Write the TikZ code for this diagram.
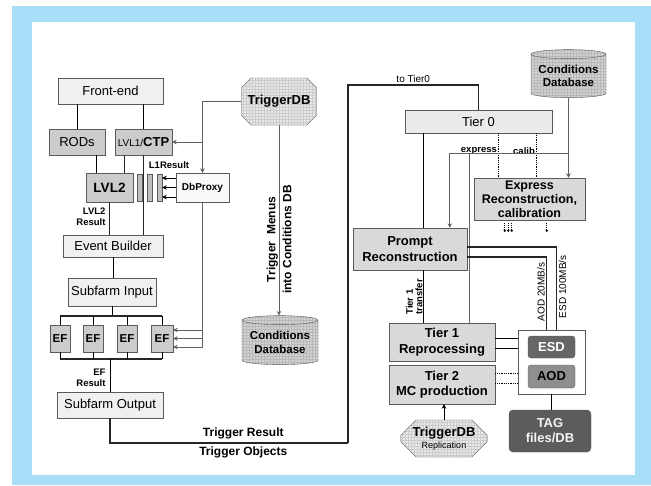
\documentclass[tikz,border=0pt]{standalone}
\usepackage{fontspec}
\setmainfont{Liberation Sans}
\usepackage{xcolor}
\usetikzlibrary{positioning, arrows.meta, shapes.geometric, shapes.misc, patterns}

\definecolor{framebl}{RGB}{168,222,247}
\definecolor{boxline}{RGB}{90,90,90}

\begin{document}
\begin{tikzpicture}[x=1pt, y=-1pt,
  box/.style={draw=boxline, fill=gray!12, inner sep=0pt, align=center,
              font=\fontsize{13}{15}\selectfont},
  midbox/.style={box, fill=gray!40},
  tierbox/.style={box, fill=gray!30, font=\fontsize{13}{15.5}\selectfont\bfseries},
  slot/.style={draw=boxline, fill=gray!50, minimum width=5pt,
               minimum height=27pt, inner sep=0pt},
  efbox/.style={midbox, font=\fontsize{11.5}{13}\selectfont\bfseries,
                minimum width=20pt, minimum height=27pt},
  octa/.style={chamfered rectangle, chamfered rectangle xsep=22pt,
               draw=boxline, preaction={fill=gray!18}, pattern=grid,
               pattern color=gray!40, align=center, inner sep=0pt},
  dbase/.style={cylinder, shape border rotate=90, aspect=0.15, draw=boxline,
                preaction={fill=gray!35}, pattern=grid, pattern color=gray!55,
                align=center, inner sep=0pt,
                font=\fontsize{11.5}{13.5}\selectfont\bfseries},
  note/.style={font=\fontsize{9.5}{10.5}\selectfont\bfseries, inner sep=1.5pt},
  plain/.style={font=\fontsize{10}{11}\selectfont, inner sep=1.5pt},
  link/.style={line width=0.8pt},
  data/.style={draw=black!85, line width=1.2pt},
  dots/.style={line width=0.9pt, dash pattern=on 1pt off 0.8pt},
  gln/.style={draw=gray!75!black, line width=0.7pt},
  garr/.style={gln, -{Stealth[length=4.5pt,width=4.5pt]}},
  arr/.style={link, -{Stealth[length=4.5pt,width=4.5pt]}}
]
  \useasboundingbox (0,0) rectangle (651,485);
  \fill[framebl] (12,6) rectangle (651,485);
  \fill[white] (32,22) rectangle (635,475);

  % online trigger chain
  \node[box, minimum width=105pt, minimum height=26pt] (fe) at (110.5,91) {Front-end};
  \node[midbox, minimum width=56pt, minimum height=26pt] (rods) at (77,142) {RODs};
  \node[midbox, minimum width=57pt, minimum height=26pt] (ctp) at (143.5,142)
    {{\fontsize{10}{12}\selectfont LVL1/}{\bfseries CTP}};
  \node[midbox, font=\fontsize{13.5}{15}\selectfont\bfseries,
        minimum width=47pt, minimum height=29pt] (lvl2) at (109.5,187.5) {LVL2};
  \node[slot] (r1) at (139.5,187.5) {};
  \node[slot] (r2) at (149.5,187.5) {};
  \node[slot] (r3) at (159.5,187.5) {};
  \node[box, fill=gray!5, font=\fontsize{10}{12}\selectfont\bfseries,
        minimum width=53pt, minimum height=29pt] (dbp) at (202.5,187.5) {DbProxy};
  \node[note] (l1res) at (169,165) {L1Result};
  \node[note, align=right] (l2res) at (91,216.5) {LVL2\\Result};

  \node[box, minimum width=100pt, minimum height=22pt] (eb) at (113,246) {Event Builder};
  \node[box, minimum width=88pt, minimum height=28pt] (sfi) at (112,292) {Subfarm Input};
  \node[efbox] (ef1) at (60,338.5) {EF};
  \node[efbox] (ef2) at (93,338.5) {EF};
  \node[efbox] (ef3) at (127,338.5) {EF};
  \node[efbox, minimum width=22pt] (ef4) at (162,338.5) {EF};
  \node[note, align=right] (efres) at (91,378) {EF\\Result};
  \node[box, minimum width=106pt, minimum height=26pt] (sfo) at (110,405) {Subfarm Output};

  \node[octa, font=\fontsize{13}{15}\selectfont\bfseries,
        minimum width=72pt, minimum height=47pt] (tdb) at (279,101.5) {TriggerDB};
  \node[dbase, minimum width=76pt, minimum height=49pt] (cdb1) at (280,342.5)
    {Conditions\\Database};

  % offline side
  \node[dbase, minimum width=75pt, minimum height=48pt] (cdb2) at (568.5,76)
    {Conditions\\Database};
  \node[box, fill=gray!16, minimum width=147pt, minimum height=23pt] (t0) at (478.5,121.5) {Tier 0};
  \node[tierbox, font=\fontsize{12.5}{14}\selectfont\bfseries,
        minimum width=111pt, minimum height=42pt] (expr) at (529.5,199)
    {Express\\Reconstruction,\\calibration};
  \node[tierbox, minimum width=114pt, minimum height=42pt] (prompt) at (410,249)
    {Prompt\\Reconstruction};
  \node[tierbox, minimum width=106pt, minimum height=38pt] (tier1) at (442,342)
    {Tier 1\\Reprocessing};
  \node[tierbox, minimum width=106pt, minimum height=39pt] (tier2) at (442,384.5)
    {Tier 2\\MC production};
  \node[draw=boxline, fill=white, minimum width=67pt, minimum height=64pt] (store) at (551.5,362) {};
  \node[draw=boxline, fill=gray!80!black, rounded corners=3pt, text=white,
        font=\fontsize{13}{15}\selectfont\bfseries,
        minimum width=47pt, minimum height=22pt] (esd) at (551.5,347) {ESD};
  \node[draw=boxline, fill=gray!88, rounded corners=3pt,
        font=\fontsize{13}{15}\selectfont\bfseries,
        minimum width=47pt, minimum height=23pt] (aod) at (551.5,376.5) {AOD};
  \node[draw=boxline, fill=gray!72!black, rounded corners=4pt, text=gray!10,
        align=center, font=\fontsize{13}{15}\selectfont\bfseries,
        minimum width=82pt, minimum height=42pt] (tag) at (550,431) {TAG\\files/DB};
  \node[octa, chamfered rectangle xsep=16pt, minimum width=82pt, minimum height=37pt]
    (repl) at (444,438.5)
    {{\fontsize{13}{14}\selectfont\bfseries TriggerDB}\\{\fontsize{9}{10}\selectfont Replication}};

  % connections, online
  \draw[link] (rods.north) -- (rods.north |- fe.south);
  \draw[link] (ctp.north) -- (ctp.north |- fe.south);
  \coordinate (rodout) at ([xshift=-9pt]rods.south east);
  \coordinate (ctpout) at ([xshift=10pt]ctp.south west);
  \draw[link] (rodout) -- (rodout |- lvl2.north);
  \draw[data] (ctpout) -- (ctpout |- lvl2.north);
  \draw[data] (ctp.south) -- (ctp.south |- eb.north);
  \draw[data] (lvl2.south) -- (lvl2.south |- eb.north);
  \draw[link] (eb.south) -- (eb.south |- sfi.north);

  \coordinate (bustop) at (110,316);
  \coordinate (busbot) at (110,359);
  \draw[link] (sfi.south) -- (sfi.south |- bustop);
  \draw[data] (ef1.north |- bustop) -- (ef4.north |- bustop);
  \draw[data] (ef1.north |- busbot) -- (ef4.north |- busbot);
  \foreach \e in {ef1,ef2,ef3,ef4} {
    \draw[link] (\e.north) -- (\e.north |- bustop);
    \draw[link] (\e.south) -- (\e.south |- busbot);
  }
  \draw[link] (sfo.north) -- (sfo.north |- busbot);

  \draw[garr] (tdb.west) -| (dbp.north);
  \draw[garr] (dbp.north |- ctp.east) -- (ctp.east);
  \foreach \d in {9.5,0,-9.5}
    \draw[arr, line width=0.6pt] ([yshift=\d pt]dbp.west) -- ([yshift=\d pt]r3.east);
  \coordinate (efin) at ([yshift=-8.5pt]ef4.east);
  \draw[gln] (dbp.south) -- (dbp.south |- efin);
  \foreach \d in {8.5,0,-8.5}
    \draw[arr, gln, line width=0.6pt] ([yshift=\d pt]ef4.east -| dbp.south) -- ([yshift=\d pt]ef4.east);

  \draw[garr] (tdb.south) -- (tdb.south |- cdb1.north)
    node[pos=0.6, rotate=90, align=center,
         font=\fontsize{12}{16}\selectfont\bfseries] (menus)
    {Trigger\ \ Menus\\into Conditions DB};

  % to Tier0
  \coordinate (down) at (348,443);
  \coordinate (up) at (348,85);
  \draw[data] (sfo.south) |- (down)
    node[pos=0.78, above, font=\fontsize{12}{14}\selectfont\bfseries] (trres) {Trigger Result}
    node[pos=0.78, below, font=\fontsize{12}{14}\selectfont\bfseries] (trobj) {Trigger Objects};
  \draw[data] (down) -- (up) -| (t0.north)
    node[pos=0.25, above, plain] (tot0) {to Tier0};

  % connections, offline
  \coordinate (t0p) at ([xshift=19pt]t0.south west);
  \draw[link] (t0p) -- (t0p |- prompt.north);
  \coordinate (t0e) at ([xshift=25pt]expr.north west);
  \coordinate (t0c) at ([xshift=63pt]expr.north west);
  \draw[dots] (t0e |- t0.south) -- (t0e)
    node[pos=0.4, left, note] (lexp) {express};
  \draw[dots] (t0c |- t0.south) -- (t0c)
    node[pos=0.4, left, note] (lcal) {calib};

  \coordinate (cbr) at (568.5,153);
  \coordinate (pin) at ([xshift=97pt]prompt.north west);
  \coordinate (t1in) at ([xshift=81pt]tier1.north west);
  \draw[garr] (cdb2.south) -- (cdb2.south |- expr.north);
  \draw[garr] (cbr) -| (pin);
  \draw[gln] (t1in |- cbr) -- (t1in);

  \foreach \dx in {31,34.5,38,73}
    \draw[dots, line width=0.8pt, -{Stealth[length=2.5pt,width=3pt]}]
      ([xshift=\dx pt, yshift=-3pt]expr.south west) -- ([xshift=\dx pt, yshift=-12pt]expr.south west);

  \coordinate (esdin) at ([xshift=39pt]store.north west);
  \coordinate (aodin) at ([xshift=29pt]store.north west);
  \draw[data] ([yshift=2pt]prompt.east) -| (esdin)
    node[pos=0.74, rotate=90, below, plain] (lesd) {ESD 100MB/s};
  \draw[data] ([yshift=-8pt]prompt.east) -| (aodin)
    node[pos=0.74, rotate=90, above, plain] (laod) {AOD 20MB/s};

  \coordinate (t1out) at ([xshift=71pt]prompt.south west);
  \draw[link] (t1out) -- (t1out |- tier1.north)
    node[pos=0.87, rotate=90, anchor=south west, align=left,
         font=\fontsize{9.5}{9.5}\selectfont\bfseries, inner sep=1pt] (ltr)
    {Tier 1\\transfer};

  \foreach \d in {4,-6} {
    \coordinate (s) at ([yshift=\d pt]tier1.east);
    \draw[link, line width=1pt] (s) -- (s -| store.west);
  }
  \foreach \d in {11.5,1.5} {
    \coordinate (s) at ([yshift=\d pt]tier2.east);
    \draw[dots, line width=1pt] (s) -- (s -| store.west);
  }
  \draw[link] (store.south) -- (store.south |- tag.north);
  \draw[arr, line width=0.6pt] (repl.north) -- (repl.north |- tier2.south);
\end{tikzpicture}
\end{document}
